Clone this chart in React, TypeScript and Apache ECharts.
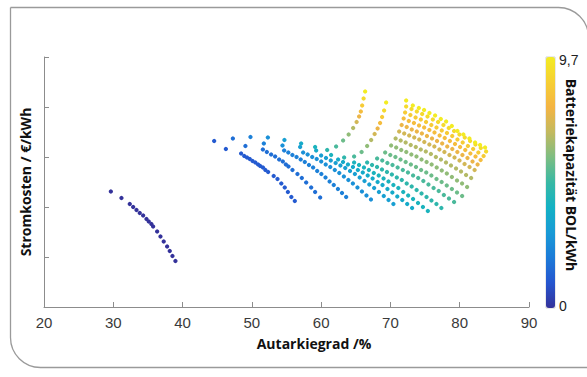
import React, { useEffect, useRef } from "react";
import * as echarts from "echarts";

// Battery capacity (BOL, kWh) of each sweep curve; the colour follows it
const batteryLevels = [0, 1.1, 1.6, 2.1, 2.6, 3.1, 3.6, 4.1, 4.6, 5.1, 5.6, 6.1, 6.6, 7.1, 7.6, 8.1, 8.6, 9.1, 9.7];

// Autarkiegrad (%) of each point, one row per battery level (PV size increasing)
const autarkyByBattery: number[][] = [
  [29.65, 31.18, 32.38, 32.87, 33.35, 33.82, 34.31, 34.79, 35.12, 35.5, 35.75, 36.33, 36.81, 37.28, 37.77, 38.15, 38.54, 38.97],
  [44.56, 46.25, 48.45, 48.9, 49.3, 49.7, 50.1, 50.5, 50.9, 51.2, 51.6, 51.95, 52.35, 53.15, 53.7, 54.25, 54.75, 55.2, 55.7, 56.2],
  [47.26, 49.07, 51.59, 52.16, 52.78, 53.36, 53.94, 54.47, 54.91, 55.28, 55.86, 56.58, 57.21, 57.84, 58.56, 59.13, 59.86],
  [49.8, 51.73, 54.66, 55.26, 55.85, 56.45, 57.05, 57.64, 58.24, 58.84, 59.43, 60.03, 60.63, 61.22, 61.82, 62.42, 63.01, 63.61],
  [52.31, 54.42, 57.4, 58.05, 58.71, 59.36, 60.01, 60.66, 61.32, 61.97, 62.62, 63.28, 63.93, 64.58, 65.24, 65.89, 66.54, 67.19],
  [54.7, 56.97, 60.0, 60.7, 61.39, 62.09, 62.78, 63.48, 64.17, 64.87, 65.56, 66.26, 66.95, 67.65, 68.34, 69.04, 69.73, 70.43],
  [57.11, 59.28, 62.45, 63.16, 63.87, 64.59, 65.3, 66.01, 66.72, 67.43, 68.15, 68.86, 69.57, 70.28, 70.99, 71.71, 72.42, 73.13],
  [59.13, 61.44, 64.76, 65.47, 66.18, 66.89, 67.6, 68.31, 69.01, 69.72, 70.43, 71.14, 71.85, 72.56, 73.27, 73.98, 74.69, 75.4],
  [60.87, 63.32, 66.64, 67.35, 68.07, 68.78, 69.5, 70.21, 70.92, 71.64, 72.35, 73.07, 73.78, 74.49, 75.21, 75.92, 76.64, 77.35],
  [62.16, 64.76, 68.08, 68.82, 69.56, 70.3, 71.04, 71.79, 72.53, 73.27, 74.01, 74.75, 75.49, 76.23, 76.97, 77.71, 78.45, 79.19],
  [63.17, 65.84, 69.24, 69.98, 70.72, 71.46, 72.2, 72.95, 73.69, 74.43, 75.17, 75.91, 76.65, 77.39, 78.13, 78.87, 79.61, 80.35],
  [63.97, 66.64, 70.1, 70.83, 71.56, 72.29, 73.02, 73.76, 74.49, 75.22, 75.95, 76.68, 77.41, 78.14, 78.87, 79.61, 80.34, 81.07],
  [64.62, 67.22, 70.75, 71.48, 72.2, 72.93, 73.66, 74.38, 75.11, 75.84, 76.56, 77.29, 78.02, 78.74, 79.47, 80.19, 80.92, 81.65],
  [65.12, 67.72, 71.26, 71.99, 72.71, 73.44, 74.16, 74.89, 75.62, 76.34, 77.07, 77.79, 78.52, 79.25, 79.97, 80.7, 81.42, 82.15],
  [65.48, 68.15, 71.62, 72.35, 73.08, 73.81, 74.54, 75.27, 76.0, 76.73, 77.47, 78.2, 78.93, 79.66, 80.39, 81.12, 81.85, 82.58],
  [65.73, 68.51, 71.91, 72.65, 73.39, 74.13, 74.87, 75.62, 76.36, 77.1, 77.84, 78.58, 79.32, 80.06, 80.8, 81.54, 82.28, 83.02],
  [65.92, 68.8, 72.12, 72.88, 73.63, 74.39, 75.14, 75.9, 76.65, 77.41, 78.16, 78.92, 79.67, 80.43, 81.18, 81.94, 82.69, 83.45],
  [66.13, 69.09, 72.27, 73.04, 73.81, 74.58, 75.35, 76.12, 76.88, 77.65, 78.42, 79.19, 79.96, 80.73, 81.5, 82.27, 83.04, 83.81],
  [66.35, 69.38, 72.27, 73.23, 74.1, 74.86, 75.63, 76.45, 77.27, 78.04, 78.86, 79.67, 80.53, 81.4, 82.22, 82.94, 83.66],
];

// Stromkosten (relative units, axis unlabelled) of each point
const costByBattery: number[][] = [
  [2.31, 2.18, 2.06, 2.0, 1.94, 1.88, 1.83, 1.76, 1.71, 1.66, 1.61, 1.51, 1.41, 1.31, 1.21, 1.12, 1.02, 0.92],
  [3.32, 3.16, 3.07, 3.02, 2.99, 2.96, 2.92, 2.89, 2.85, 2.82, 2.79, 2.74, 2.7, 2.62, 2.56, 2.47, 2.39, 2.3, 2.2, 2.12],
  [3.37, 3.22, 3.15, 3.1, 3.05, 3.01, 2.95, 2.91, 2.85, 2.81, 2.74, 2.66, 2.58, 2.49, 2.39, 2.3, 2.19],
  [3.4, 3.27, 3.13, 3.09, 3.04, 3.0, 2.95, 2.9, 2.84, 2.79, 2.72, 2.66, 2.59, 2.51, 2.44, 2.36, 2.28, 2.2],
  [3.39, 3.23, 3.09, 3.05, 3.0, 2.96, 2.91, 2.85, 2.8, 2.74, 2.68, 2.61, 2.54, 2.47, 2.39, 2.31, 2.23, 2.15],
  [3.34, 3.2, 3.03, 2.98, 2.93, 2.88, 2.83, 2.78, 2.72, 2.66, 2.59, 2.52, 2.45, 2.38, 2.3, 2.22, 2.14, 2.06],
  [3.27, 3.13, 2.95, 2.9, 2.85, 2.8, 2.74, 2.69, 2.63, 2.57, 2.5, 2.44, 2.36, 2.29, 2.21, 2.14, 2.06, 1.98],
  [3.2, 3.04, 2.89, 2.84, 2.79, 2.74, 2.68, 2.63, 2.57, 2.51, 2.44, 2.38, 2.3, 2.23, 2.16, 2.08, 2.0, 1.92],
  [3.14, 2.99, 2.89, 2.84, 2.8, 2.75, 2.7, 2.65, 2.59, 2.54, 2.47, 2.41, 2.34, 2.27, 2.2, 2.13, 2.06, 1.98],
  [3.21, 3.01, 2.97, 2.93, 2.88, 2.84, 2.79, 2.74, 2.69, 2.63, 2.58, 2.52, 2.45, 2.38, 2.32, 2.24, 2.17, 2.1],
  [3.33, 3.1, 3.09, 3.04, 3.0, 2.95, 2.9, 2.85, 2.8, 2.74, 2.69, 2.63, 2.56, 2.5, 2.43, 2.36, 2.29, 2.22],
  [3.45, 3.22, 3.23, 3.19, 3.14, 3.1, 3.05, 3.01, 2.95, 2.9, 2.85, 2.79, 2.73, 2.67, 2.6, 2.53, 2.47, 2.4],
  [3.58, 3.34, 3.37, 3.33, 3.29, 3.24, 3.2, 3.15, 3.11, 3.06, 3.0, 2.95, 2.89, 2.83, 2.77, 2.71, 2.64, 2.58],
  [3.7, 3.46, 3.51, 3.47, 3.43, 3.39, 3.35, 3.3, 3.25, 3.21, 3.15, 3.1, 3.04, 2.99, 2.93, 2.86, 2.8, 2.74],
  [3.81, 3.57, 3.64, 3.6, 3.55, 3.51, 3.47, 3.42, 3.37, 3.32, 3.27, 3.21, 3.16, 3.1, 3.04, 2.98, 2.91, 2.85],
  [3.91, 3.68, 3.77, 3.72, 3.68, 3.63, 3.59, 3.54, 3.49, 3.43, 3.38, 3.32, 3.26, 3.2, 3.14, 3.07, 3.01, 2.94],
  [4.03, 3.8, 3.89, 3.84, 3.79, 3.75, 3.7, 3.64, 3.59, 3.53, 3.48, 3.42, 3.35, 3.29, 3.22, 3.16, 3.09, 3.02],
  [4.17, 3.93, 4.01, 3.96, 3.91, 3.86, 3.81, 3.75, 3.7, 3.64, 3.58, 3.52, 3.45, 3.39, 3.32, 3.25, 3.18, 3.11],
  [4.31, 4.09, 4.13, 4.03, 3.98, 3.94, 3.88, 3.83, 3.76, 3.71, 3.62, 3.52, 3.45, 3.37, 3.29, 3.24, 3.19],
];

const xTicks = { min: 20, max: 90, interval: 10 };
const yTicks = { min: 0, max: 5, interval: 1 };
const colorbarLabels = ["9,7", "0"];

const parula = [
  "#34329a", "#2555cf", "#1c7bd8", "#199ad6", "#13b1c4", "#38b8a4",
  "#7dbd82", "#c2b95f", "#f4b443", "#f6cf34", "#f3ec22",
];

export default function App() {
  const ref = useRef<HTMLDivElement>(null);
  useEffect(() => {
    if (!ref.current) return;
    const chart = echarts.init(ref.current, null, { renderer: "svg" });
    const data: number[][] = [];
    batteryLevels.forEach((b, k) => {
      autarkyByBattery[k].forEach((x, i) => {
        data.push([x, costByBattery[k][i], b]);
      });
    });
    const titleFont = "'Open Sans', 'DejaVu Sans', sans-serif";
    chart.setOption({
      animation: false,
      backgroundColor: "#ffffff",
      grid: { left: 44, right: 58, top: 57, bottom: 70, containLabel: false },
      xAxis: {
        type: "value",
        min: xTicks.min,
        max: xTicks.max,
        interval: xTicks.interval,
        axisLine: { lineStyle: { color: "#8c8c8c", width: 1 } },
        axisTick: { inside: true, length: 5, lineStyle: { color: "#8c8c8c" } },
        axisLabel: { color: "#3a3a3a", fontSize: 15, fontFamily: "'Liberation Sans', Arial, sans-serif", margin: 8 },
        splitLine: { show: false },
      },
      yAxis: {
        type: "value",
        min: yTicks.min,
        max: yTicks.max,
        interval: yTicks.interval,
        name: "Stromkosten / €/kWh",
        nameLocation: "middle",
        nameRotate: 90,
        nameGap: 12,
        nameTextStyle: { color: "#111", fontSize: 14, fontWeight: "bold", fontFamily: titleFont },
        axisLine: { show: true, lineStyle: { color: "#8c8c8c", width: 1 } },
        axisTick: { show: true, inside: true, length: 5, lineStyle: { color: "#8c8c8c" } },
        axisLabel: { show: false },
        splitLine: { show: false },
      },
      visualMap: {
        type: "continuous",
        min: 0,
        max: 9.7,
        dimension: 2,
        orient: "vertical",
        left: 546,
        top: 57,
        itemWidth: 9,
        itemHeight: 251,
        padding: 0,
        calculable: false,
        inRange: { color: parula },
      },
      series: [
        {
          type: "scatter",
          data,
          symbol: "circle",
          symbolSize: 4.3,
          itemStyle: { opacity: 1 },
        },
      ],
      graphic: [
        {
          type: "rect",
          shape: { x: 10.5, y: 7.5, width: 578, height: 360, r: [0, 30, 0, 30] },
          style: { fill: "none", stroke: "#9a9a9a", lineWidth: 1.3 },
          silent: true,
        },
        {
          type: "rect",
          shape: { x: 546, y: 57, width: 9, height: 251 },
          style: { fill: "none", stroke: "#c8c8c8", lineWidth: 0.8 },
          silent: true,
        },
        {
          type: "text",
          x: 314,
          y: 343,
          style: {
            text: "Autarkiegrad /%",
            fill: "#111",
            fontSize: 14,
            fontWeight: "bold",
            fontFamily: titleFont,
            align: "center",
            verticalAlign: "middle",
          },
        },
        {
          type: "text",
          x: 571,
          y: 175,
          rotation: -Math.PI / 2,
          style: {
            text: "Batteriekapazität BOL/kWh",
            fill: "#111",
            fontSize: 14,
            fontWeight: "bold",
            fontFamily: titleFont,
            align: "center",
            verticalAlign: "middle",
          },
        },
        {
          type: "text",
          x: 559,
          y: 60,
          style: {
            text: colorbarLabels[0],
            fill: "#222",
            fontSize: 14,
            fontFamily: "'Liberation Sans', Arial, sans-serif",
            align: "left",
            verticalAlign: "middle",
          },
        },
        {
          type: "text",
          x: 559,
          y: 306,
          style: {
            text: colorbarLabels[1],
            fill: "#222",
            fontSize: 14,
            fontFamily: "'Liberation Sans', Arial, sans-serif",
            align: "left",
            verticalAlign: "middle",
          },
        },
      ],
    });
    return () => chart.dispose();
  }, []);
  return <div ref={ref} style={{ position: "fixed", left: 0, top: 0, width: 587, height: 377 }} />;
}
